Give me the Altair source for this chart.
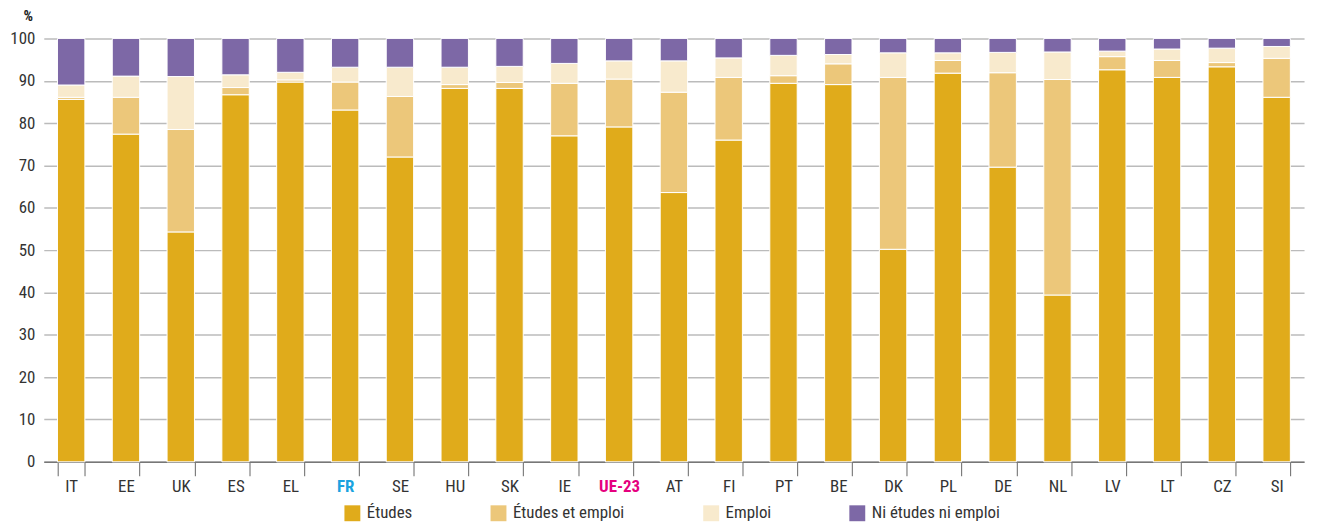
import altair as alt
import pandas as pd

countries = ["IT","EE","UK","ES","EL","FR","SE","HU","SK","IE","UE-23","AT","FI","PT","BE","DK","PL","DE","NL","LV","LT","CZ","SI"]
etudes = [85.6,77.4,54.3,86.7,89.7,83.1,72.0,88.2,88.2,77.0,79.1,63.6,76.0,89.4,89.1,50.2,91.8,69.6,39.4,92.6,90.8,93.3,86.1]
etudes_emploi = [0.5,8.7,24.2,1.7,0.5,6.6,14.3,0.9,1.4,12.4,11.3,23.7,14.8,1.8,4.9,40.6,3.0,22.3,50.9,3.1,4.0,1.0,9.2]
emploi = [2.9,5.0,12.5,3.0,1.8,3.5,6.9,4.1,3.8,4.7,4.3,7.4,4.6,4.8,2.2,5.8,1.8,4.8,6.5,1.3,2.7,3.4,2.8]
ni = [11.0,8.9,9.0,8.6,8.0,6.8,6.8,6.8,6.6,5.9,5.3,5.3,4.6,4.0,3.8,3.4,3.4,3.3,3.2,3.0,2.5,2.3,1.9]

series = ["Études", "Études et emploi", "Emploi", "Ni études ni emploi"]
colors = ["#E0AB1B", "#ECC77A", "#F8EACD", "#7D68A6"]

rows = []
for name, vals in zip(series, [etudes, etudes_emploi, emploi, ni]):
    for c, v in zip(countries, vals):
        rows.append({"pays": c, "serie": name, "valeur": v, "ordre": series.index(name)})
df = pd.DataFrame(rows)

FONT = "Roboto Condensed, Liberation Sans Narrow, Roboto, sans-serif"

chart = alt.Chart(df).mark_bar(stroke="white", strokeWidth=1).encode(
    x=alt.X("pays:N", sort=countries, title=None,
            scale=alt.Scale(paddingInner=0.5, paddingOuter=0.25),
            axis=alt.Axis(labelAngle=0, tickBand="extent", tickSize=14,
                          tickColor="#666666", domainColor="#777777", domainWidth=1.5, grid=False,
                          labelFontSize=17, labelPadding=3,
                          labelColor=alt.expr("datum.value == 'FR' ? '#1AA3E0' : datum.value == 'UE-23' ? '#E5007E' : '#333333'"),
                          labelFontWeight=alt.expr("datum.value == 'FR' || datum.value == 'UE-23' ? 'bold' : 'normal'"))),
    y=alt.Y("valeur:Q", stack="zero", title="%",
            scale=alt.Scale(domain=[0, 100], nice=False),
            axis=alt.Axis(values=list(range(0, 101, 10)), domain=False, ticks=False,
                          gridColor="#BBBBBB", gridWidth=1.5, labelFontSize=17,
                          labelColor="#333333", labelPadding=9,
                          titleAngle=0, titleX=-16, titleY=-23, titleAlign="center",
                          titleBaseline="middle",
                          titleFontSize=15, titleFontWeight="bold", titleColor="#222222")),
    color=alt.Color("serie:N", sort=series,
                    scale=alt.Scale(domain=series, range=colors),
                    legend=alt.Legend(orient="none", legendX=302, legendY=469,
                                      direction="horizontal", title=None,
                                      symbolType="square", symbolSize=256, symbolStrokeWidth=0,
                                      labelFontSize=17, labelColor="#333333", labelOffset=6,
                                      columnPadding=78)),
    order=alt.Order("ordre:Q", sort="ascending"),
).properties(
    width=1268, height=426,
    autosize=alt.AutoSizeParams(type="none"),
    padding={"left": 36, "top": 29, "right": 7, "bottom": 72},
).configure(font=FONT).configure_view(stroke=None)

chart.save("out.html", embed_options={"renderer": "svg", "actions": False})
